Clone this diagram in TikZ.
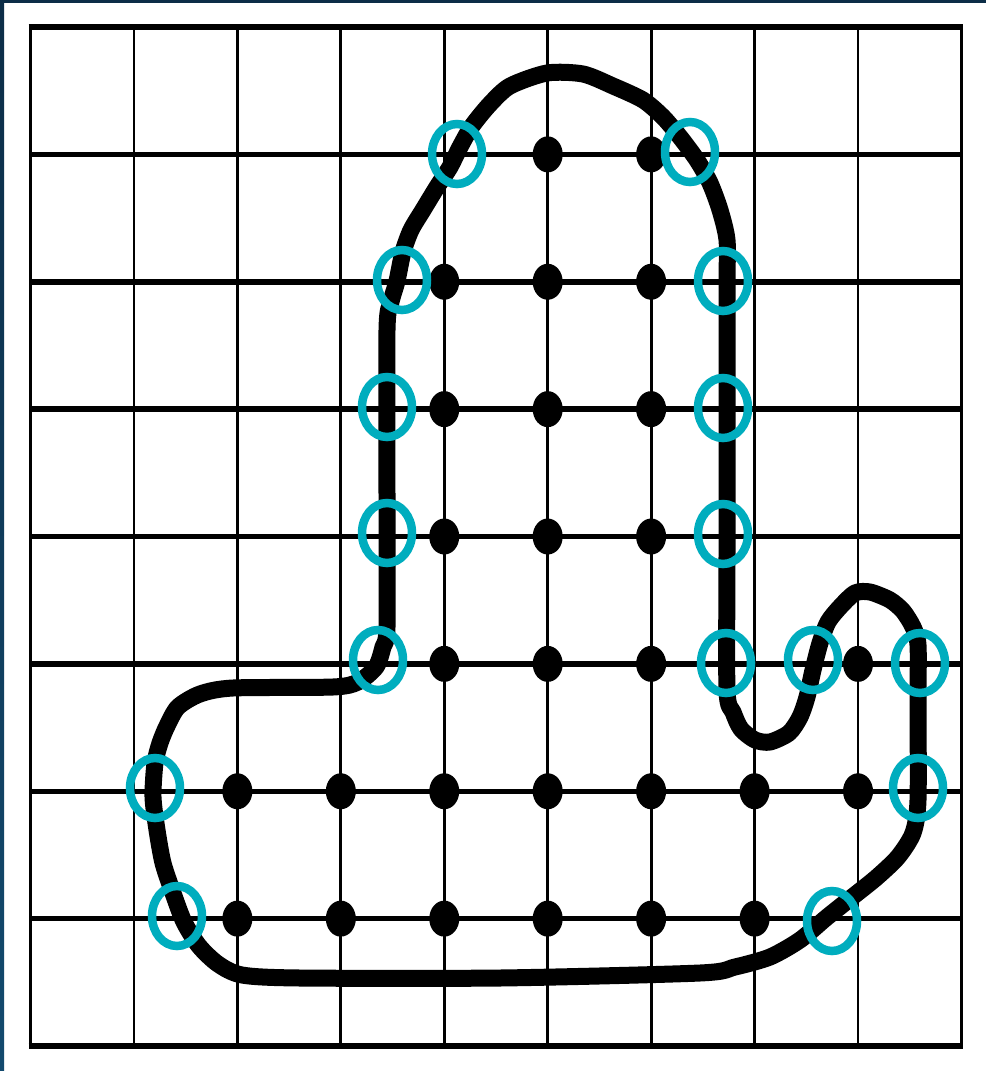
\documentclass[tikz,border=0pt]{standalone}
\usepackage{xcolor}
\usepackage{tikz}
\definecolor{FrameNavy}{HTML}{0C2D47}
\definecolor{FrameBlue}{HTML}{134A6E}
\definecolor{RingTeal}{HTML}{00ADBE}

\begin{document}
\begin{tikzpicture}[
    x=1pt, y=-1pt,
    thinline/.style={black, line width=2.8pt},
    thickline/.style={black, line width=5.5pt},
    outline/.style={black, line width=17pt, line join=round, line cap=round},
    gridpt/.style={black},
    ring/.style={RingTeal, line width=8.5pt}
  ]
    %% Page and frame edge
    \useasboundingbox (0,0) rectangle (986,1071);
    \fill[white] (0,0) rectangle (986,1071);
    \shade[top color=FrameNavy, bottom color=FrameBlue] (0,0) rectangle (4,1071);
    \fill[FrameNavy] (0,0) rectangle (986,3);

    %% Grid
    \foreach \i in {1,...,8}
      \draw[thinline] (30.5+103.44*\i,27) -- (30.5+103.44*\i,1046);
    \foreach \j in {1,...,7}
      \draw[thickline] (30.5,27+127.375*\j) -- (961.5,27+127.375*\j);
    \draw[black, line width=3.8pt] (30.5,27) -- (30.5,1046);
    \draw[black, line width=3.8pt] (961.5,27) -- (961.5,1046);
    \draw[black, line width=6.5pt] (28.6,27) -- (963.4,27);
    \draw[black, line width=6.5pt] (28.6,1046) -- (963.4,1046);

    %% Closed curve
    \draw[outline] plot[smooth cycle, tension=0.45] coordinates {
      (547,73) (583,74) (613,86) (643,100) (663,117) (680,137) (697,160)
      (710,183) (720,210) (727,240) (727,283) (727,400) (727,550) (727,690)
      (733,712) (741,729) (755,740) (770,742) (789,733) (800,717) (807,697)
      (813,670) (820,643) (828,622) (840,607) (855,593) (870,592) (890,600)
      (903,611) (913,627) (918,645) (918,700) (918,800) (913,833) (898,857)
      (876,878) (851,898) (826,918) (800,940) (770,957) (735,967) (700,973)
      (500,978) (300,978) (242,975) (218,964) (199,946) (184,922) (173,893)
      (163,863) (157,830) (153,797) (155,763) (160,743) (167,726) (178,707)
      (200,694) (233,688) (333,687) (358,682) (376,667) (383,647) (387,627)
      (387,500) (387,330) (391,302) (397,281) (403,252) (411,230) (423,210)
      (437,187) (450,167) (460,147) (472,126) (490,104) (510,86)};

    %% Inside grid points
    \foreach \c/\r in {5/1,6/1, 4/2,5/2,6/2, 4/3,5/3,6/3, 4/4,5/4,6/4,
                       4/5,5/5,6/5,8/5, 2/6,3/6,4/6,5/6,6/6,7/6,8/6,
                       2/7,3/7,4/7,5/7,6/7,7/7}
      \fill[gridpt] (30.5+103.44*\c,27+127.375*\r) ellipse [x radius=15, y radius=18];

    %% Crossing markers
    \foreach \px/\py in {457/154, 690/152, 402/280, 723/281, 387/407, 723/408,
                         387/533, 723/534, 378/660, 726/663, 813/660, 920/663,
                         155/788, 918/788, 177/916, 832/921}
      \draw[ring] (\px,\py) ellipse [x radius=25, y radius=30];
  \end{tikzpicture}
\end{document}
